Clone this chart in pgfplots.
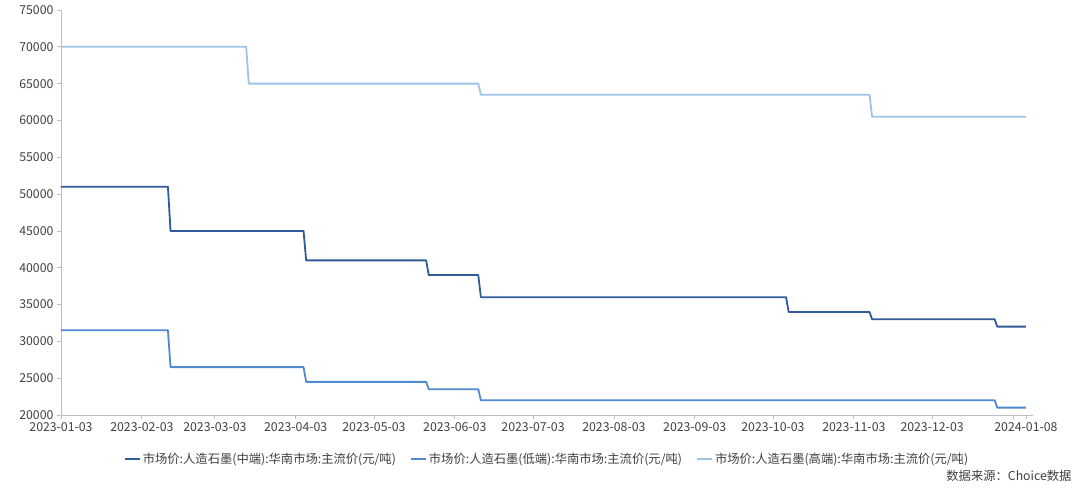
\documentclass[border=0pt]{standalone}
\usepackage{pgfplots}
\pgfplotsset{compat=1.18}
\usepackage{fontspec}
\setmainfont{Noto Sans CJK SC}

\definecolor{midblue}{HTML}{2F5B98}
\definecolor{lowblue}{HTML}{4F8AD0}
\definecolor{highblue}{HTML}{9DC3E6}
\definecolor{axisgray}{HTML}{BFBFBF}
\definecolor{textgray}{HTML}{404040}

% x = days since 2023-01-03
\begin{document}
\begin{tikzpicture}
\path[use as bounding box] (-61pt,-80pt) rectangle (1019pt,415pt);
\begin{axis}[
    at={(0pt,0pt)}, anchor=south west,
    width=972pt, height=405pt, scale only axis,
    xmin=0, xmax=372.7,
    ymin=20000, ymax=75000,
    ytick distance=5000,
    xtick={0,31,59,90,120,151,181,212,243,273,304,334,365,370},
    xticklabels={2023-01-03,2023-02-03,2023-03-03,2023-04-03,2023-05-03,2023-06-03,2023-07-03,2023-08-03,2023-09-03,2023-10-03,2023-11-03,2023-12-03,,2024-01-08},
    axis lines*=left,
    axis line style={axisgray, line width=0.8pt},
    tick align=outside,
    major tick length=4pt,
    tick style={axisgray, line width=0.8pt},
    ticklabel style={font=\fontsize{12.3}{14}\selectfont, text=textgray},
    /pgf/number format/assume math mode=true,
    /pgf/number format/1000 sep={},
    scaled y ticks=false,
    legend columns=3,
    legend style={draw=none, at={(0.5,-0.109)}, anchor=center,
        font=\fontsize{12.3}{14}\selectfont, text=textgray,
        /tikz/every even column/.append style={column sep=12pt}},
    legend image code/.code={\draw[#1, line width=2pt] (0pt,0pt) -- (15pt,0pt);},
    every axis plot/.append style={line width=1.8pt, line join=round},
]
\addplot[midblue] coordinates {
    (0,51000) (41,51000) (42,45000) (93,45000) (94,41000) (140,41000)
    (141,39000) (160,39000) (161,36000) (278,36000) (279,34000) (310,34000)
    (311,33000) (358,33000) (359,32000) (370,32000)
};
\addlegendentry{市场价:人造石墨(中端):华南市场:主流价(元/吨)}
\addplot[lowblue] coordinates {
    (0,31500) (41,31500) (42,26500) (93,26500) (94,24500) (140,24500)
    (141,23500) (160,23500) (161,22000) (358,22000) (359,21000) (370,21000)
};
\addlegendentry{市场价:人造石墨(低端):华南市场:主流价(元/吨)}
\addplot[highblue] coordinates {
    (0,70000) (71,70000) (72,65000) (160,65000) (161,63500) (310,63500)
    (311,60500) (370,60500)
};
\addlegendentry{市场价:人造石墨(高端):华南市场:主流价(元/吨)}
\end{axis}
\node[anchor=east, font=\fontsize{12.3}{14}\selectfont, text=textgray] at (1014pt,-61pt) {数据来源：Choice数据};
\end{tikzpicture}
\end{document}
